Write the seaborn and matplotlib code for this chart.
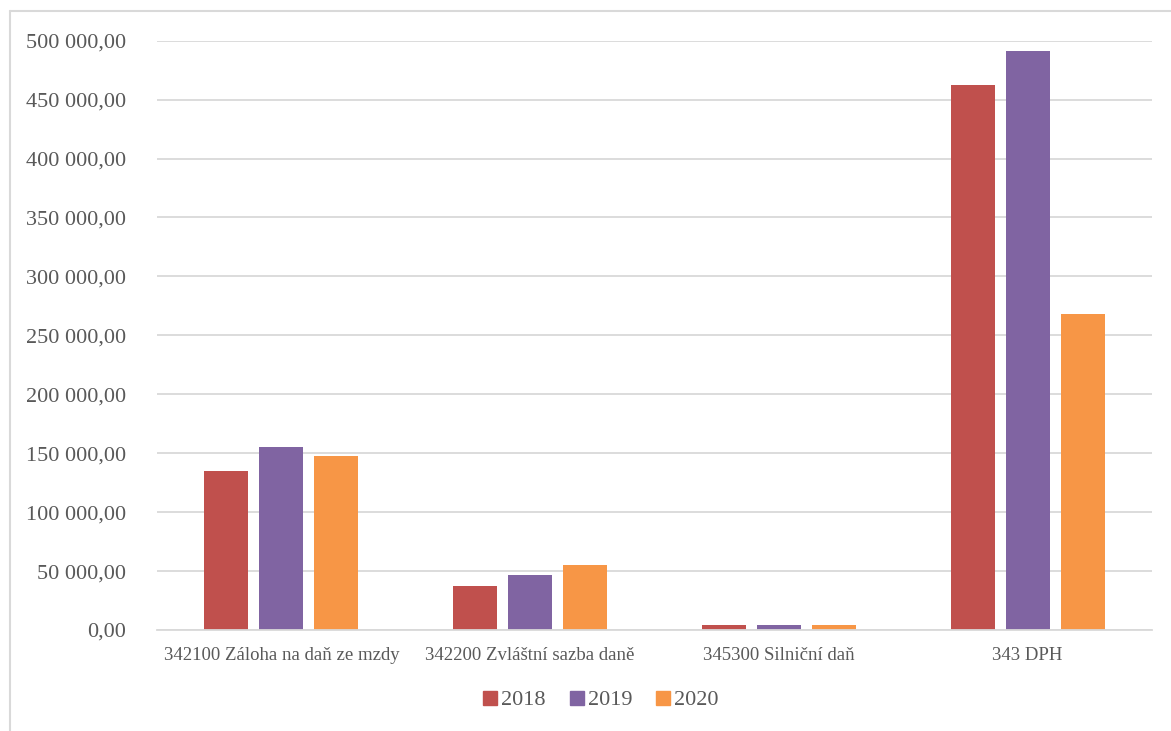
import matplotlib
matplotlib.use("Agg")
import matplotlib.pyplot as plt
import matplotlib.ticker as mticker
from matplotlib.lines import Line2D
import seaborn as sns
import pandas as pd

categories = ["342100 Záloha na daň ze mzdy", "342200 Zvláštní sazba daně",
              "345300 Silniční daň", "343 DPH"]
years = ["2018", "2019", "2020"]
values_2018 = [135000, 37100, 4000, 462800]
values_2019 = [155100, 46700, 3900, 491500]
values_2020 = [147700, 54900, 4300, 267900]
colors = ["#C0504D", "#8064A2", "#F79646"]

rows = []
for y, vals in zip(years, [values_2018, values_2019, values_2020]):
    for c, v in zip(categories, vals):
        rows.append({"cat": c, "year": y, "value": v})
df = pd.DataFrame(rows)

sns.set_theme(style="white")
plt.rcParams['font.family'] = ['Liberation Serif', 'DejaVu Serif']

W, H = 1171, 731
fig = plt.figure(figsize=(W / 100, H / 100), dpi=100)
ax = fig.add_axes([157 / W, (H - 630) / H, (1152 - 157) / W, (630 - 40.7) / H])

sns.barplot(data=df, x="cat", y="value", hue="year", palette=colors,
            width=0.663, gap=0.2, ax=ax, legend=False, saturation=1,
            edgecolor="none")

ax.set_ylim(0, 500000)
ax.set_xlim(-0.5, 3.5)
ax.yaxis.set_major_locator(mticker.MultipleLocator(50000))

def fmt(v, pos):
    s = f"{v:,.2f}"
    return s.replace(",", " ").replace(".", ",")
ax.yaxis.set_major_formatter(mticker.FuncFormatter(fmt))

ax.grid(axis="y", color="#D9D9D9", linewidth=1.3)
ax.set_axisbelow(True)
for s in ["top", "right", "left"]:
    ax.spines[s].set_visible(False)
ax.spines["bottom"].set_color("#D9D9D9")
ax.spines["bottom"].set_linewidth(1.3)
ax.tick_params(axis="y", length=0, pad=22, labelsize=16, labelcolor="#595959")
ax.tick_params(axis="x", length=0, pad=12, labelsize=13.5, labelcolor="#595959")
ax.set_xlabel("")
ax.set_ylabel("")

handles = [Line2D([0], [0], marker="s", linestyle="none", markersize=10,
                  markerfacecolor=c, markeredgecolor=c) for c in colors]
fig.legend(handles, years, loc="center", bbox_to_anchor=(600 / W, (H - 700) / H),
           ncol=3, frameon=False, fontsize=16, labelcolor="#595959",
           handletextpad=0.1, columnspacing=1.0, handlelength=0.8)

# outer chart border (top and left edges visible)
fig.add_artist(Line2D([10 / W, 1], [(H - 11) / H, (H - 11) / H], color="#D9D9D9",
                      linewidth=1.5, transform=fig.transFigure))
fig.add_artist(Line2D([10 / W, 10 / W], [0, (H - 11) / H], color="#D9D9D9",
                      linewidth=1.5, transform=fig.transFigure))

fig.savefig("out.png", dpi=100)
